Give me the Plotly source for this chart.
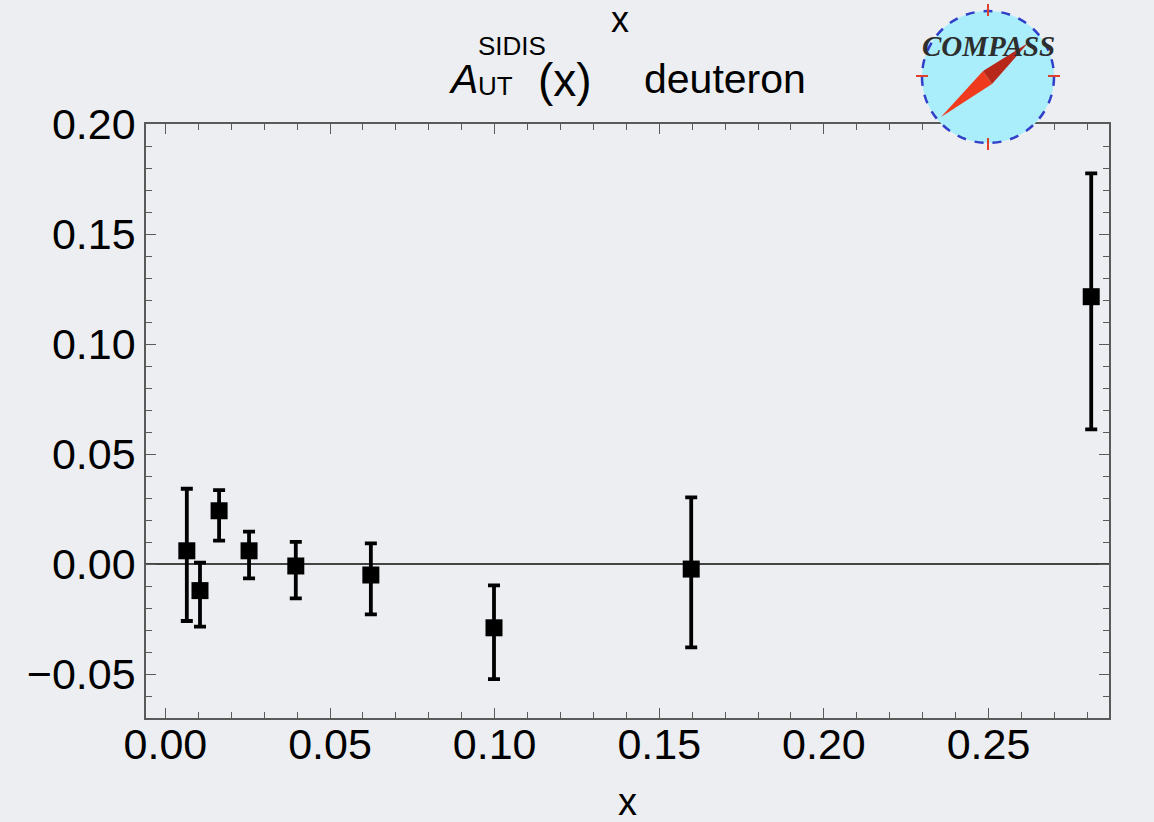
import plotly.graph_objects as go

# ---- data ----
x_vals = [0.0065, 0.0105, 0.0163, 0.0254, 0.0396, 0.0624, 0.0998, 0.1597, 0.2812]
a_ut = [0.0060, -0.0121, 0.0242, 0.0060, -0.0009, -0.0050, -0.0290, -0.0023, 0.1215]
err_plus = [0.0282, 0.0127, 0.0094, 0.0087, 0.0110, 0.0144, 0.0193, 0.0326, 0.0561]
err_minus = [0.0319, 0.0164, 0.0136, 0.0125, 0.0147, 0.0179, 0.0233, 0.0356, 0.0603]

x_range = [-0.0059, 0.2866]
y_range = [-0.07, 0.20]

W, H = 1154, 822
L, R, T, B = 146, 45, 124, 104
PW, PH = W - L - R, H - T - B

def px(xp):
    return (xp - L) / PW

def py(yp):
    return (H - B - yp) / PH

BG = "#eceef1"
FONT = "Liberation Sans, Arial, Helvetica, sans-serif"
FRAME = "#5a5a5a"

fig = go.Figure()
fig.add_trace(go.Scatter(
    x=x_vals, y=a_ut, mode="markers",
    marker=dict(symbol="square", size=17, color="black"),
    error_y=dict(type="data", symmetric=False, array=err_plus, arrayminus=err_minus,
                 color="black", thickness=3.8, width=6),
    showlegend=False,
))

axis_common = dict(
    showline=True, linecolor=FRAME, linewidth=1.5, mirror="allticks",
    ticks="inside", ticklen=10, tickwidth=1.3, tickcolor=FRAME,
    showgrid=False, tickformat=".2f",
    tickfont=dict(family=FONT, size=43, color="black"),
)

fig.update_layout(
    width=W, height=H,
    margin=dict(l=L, r=R, t=T, b=B),
    paper_bgcolor=BG, plot_bgcolor=BG,
    font=dict(family=FONT, color="black"),
    xaxis=dict(range=x_range, dtick=0.05, tick0=0, zeroline=False,
               minor=dict(dtick=0.01, ticks="inside", ticklen=6, tickcolor=FRAME, tickwidth=1.2),
               ticklabelstandoff=-12, **axis_common),
    yaxis=dict(range=y_range, dtick=0.05, tick0=0, zeroline=True, zerolinecolor="#444",
               zerolinewidth=1.5,
               minor=dict(dtick=0.01, ticks="inside", ticklen=6, tickcolor=FRAME, tickwidth=1.2),
               ticklabelstandoff=0, **axis_common),
)

ann = []
def add_text(text, xp, yp, size, xanchor="center", family=FONT, color="black"):
    ann.append(dict(text=text, x=px(xp), y=py(yp), xref="paper", yref="paper",
                    xanchor=xanchor, yanchor="middle", showarrow=False,
                    font=dict(family=family, size=size, color=color)))

# axis titles
add_text("x", 620, 19, 36)
add_text("x", 627, 802, 38)
# plot title A_UT^SIDIS(x)  deuteron
add_text("<i>A</i>", 446, 79, 41, xanchor="left")
add_text("SIDIS", 476, 46, 26, xanchor="left")
add_text("UT", 476, 86, 26, xanchor="left")
add_text("(x)", 536, 80, 46, xanchor="left")
add_text("deuteron", 642, 79, 41, xanchor="left")

# COMPASS logo (decoration)
shapes = []
cx, cy, r = 988, 76, 66
shapes.append(dict(type="circle", xref="paper", yref="paper",
                   x0=px(cx - r), x1=px(cx + r), y0=py(cy + r + 1), y1=py(cy - r + 1),
                   fillcolor="#aaeefc", line=dict(color="#3140c8", width=2.5, dash="dash"),
                   layer="above"))
for (x0, y0, x1, y1) in [(cx, cy - r - 6, cx, cy - r + 6), (cx, cy + r - 4, cx, cy + r + 8),
                         (cx - r - 6, cy, cx - r + 6, cy), (cx + r - 6, cy, cx + r + 6, cy)]:
    shapes.append(dict(type="line", xref="paper", yref="paper",
                       x0=px(x0), y0=py(y0), x1=px(x1), y1=py(y1),
                       line=dict(color="#e0402a", width=2), layer="above"))

def path(points):
    return "M " + " L ".join(f"{px(a):.5f},{py(b):.5f}" for a, b in points) + " Z"

shapes.append(dict(type="path", xref="paper", yref="paper",
                   path=path([(941, 117), (983, 71), (992, 84)]),
                   fillcolor="#f03a1e", line=dict(width=0), layer="above"))
shapes.append(dict(type="path", xref="paper", yref="paper",
                   path=path([(1028, 43), (983, 71), (992, 84)]),
                   fillcolor="#b8281a", line=dict(width=0), layer="above"))
fig.update_layout(shapes=shapes)

ann.append(dict(text="<b><i>COMPASS</i></b>", x=px(988), y=py(46), xref="paper", yref="paper",
                xanchor="center", yanchor="middle", showarrow=False,
                font=dict(family="Liberation Serif, Times New Roman, serif", size=29, color="#2e2e2e")))
fig.update_layout(annotations=ann)

fig.write_html("out.html", config={"displayModeBar": False},
               post_script="document.body.style.margin='0px';document.body.style.background='" + BG + "';")
